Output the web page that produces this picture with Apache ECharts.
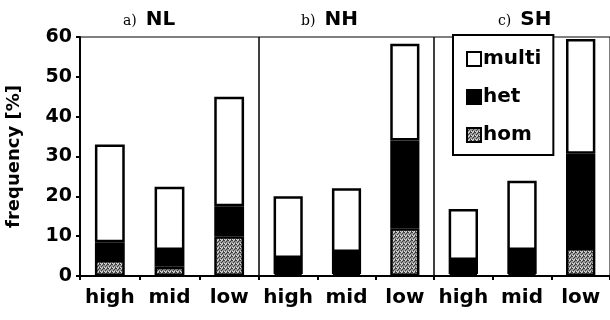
<!DOCTYPE html>
<html>
<head>
<meta charset="utf-8">
<script src="https://cdn.jsdelivr.net/npm/echarts@6/dist/echarts.min.js"></script>
<style>
  html, body { margin: 0; padding: 0; background: #fff; }
  #chart { width: 610px; height: 320px; }
</style>
</head>
<body>
<div id="chart"></div>
<script>
// Frequency of infection types per prevalence class, three regions
const categories = ['high', 'mid', 'low'];
const panels = ['NL', 'NH', 'SH'];
const panelTags = ['a)', 'b)', 'c)'];
const yTicks = [0, 10, 20, 30, 40, 50, 60];

// Stacked components (percent), one array per region: [high, mid, low]
const homNL = [4.0, 2.3, 10.0];
const hetNL = [4.5, 4.2, 7.5];
const multiNL = [24.5, 15.9, 27.5];

const homNH = [0.5, 0.5, 12.0];
const hetNH = [4.0, 5.5, 22.0];
const multiNH = [15.5, 16.0, 24.3];

const homSH = [0.5, 0.5, 7.0];
const hetSH = [3.5, 6.0, 23.7];
const multiSH = [12.8, 17.4, 28.8];

const homData = [homNL, homNH, homSH];
const hetData = [hetNL, hetNH, hetSH];
const multiData = [multiNL, multiNH, multiSH];

const SANS = '"DejaVu Sans", Verdana, sans-serif';
const SERIF = '"DejaVu Serif", "Times New Roman", serif';

// Fine stipple used for the 'hom' fill
function stipple() {
  const c = document.createElement('canvas');
  c.width = 4; c.height = 4;
  const g = c.getContext('2d');
  g.fillStyle = '#9a9a9a';
  g.fillRect(0, 0, 4, 4);
  g.fillStyle = '#3c3c3c';
  [[0,0],[2,1],[1,2],[3,3],[3,0]].forEach(p => g.fillRect(p[0], p[1], 1, 1));
  g.fillStyle = '#dcdcdc';
  [[1,0],[0,3],[2,3]].forEach(p => g.fillRect(p[0], p[1], 1, 1));
  return c;
}
const homFill = { image: stipple(), repeat: 'repeat' };

const gridBox = [
  { left: 80, width: 179 },
  { left: 259, width: 175 },
  { left: 434, width: 177 }
];

const grids = gridBox.map(b => ({
  left: b.left, width: b.width, top: 37, bottom: 44,
  show: true, borderColor: '#000', borderWidth: 1, backgroundColor: 'transparent'
}));

const xAxes = panels.map((p, i) => ({
  type: 'category', gridIndex: i, data: categories,
  axisLine: { lineStyle: { color: '#000', width: 2 } },
  axisTick: { show: true, length: 4, inside: false, lineStyle: { color: '#000', width: 2 } },
  axisLabel: { color: '#000', fontFamily: SANS, fontWeight: 'bold', fontSize: 20, margin: 12,
               interval: 0, hideOverlap: false }
}));

const yAxes = panels.map((p, i) => ({
  type: 'value', gridIndex: i, min: 0, max: 60, interval: 10,
  splitLine: { show: false },
  axisLine: { show: i === 0, lineStyle: { color: '#000', width: 2 } },
  axisTick: { show: i === 0, length: 4, lineStyle: { color: '#000', width: 2 } },
  axisLabel: { show: i === 0, color: '#000', fontFamily: SANS, fontWeight: 'bold', fontSize: 19, margin: 8,
               formatter: v => (yTicks.indexOf(v) >= 0 ? String(v) : '') },
  name: i === 0 ? 'frequency [%]' : '',
  nameLocation: 'middle', nameGap: 57, nameRotate: 90,
  nameTextStyle: { color: '#000', fontFamily: SANS, fontWeight: 'bold', fontSize: 18 }
}));

const border = { borderColor: '#000', borderWidth: 2.5 };
const series = [];
panels.forEach((p, i) => {
  series.push({
    name: 'hom', type: 'bar', stack: 'p' + i, xAxisIndex: i, yAxisIndex: i,
    barWidth: '50%', data: homData[i],
    itemStyle: Object.assign({ color: homFill }, border)
  });
  series.push({
    name: 'het', type: 'bar', stack: 'p' + i, xAxisIndex: i, yAxisIndex: i,
    barWidth: '50%', data: hetData[i],
    itemStyle: Object.assign({ color: '#000' }, border)
  });
  series.push({
    name: 'multi', type: 'bar', stack: 'p' + i, xAxisIndex: i, yAxisIndex: i,
    barWidth: '50%', data: multiData[i],
    itemStyle: Object.assign({ color: '#fff' }, border)
  });
});

const titleLeft = [118, 296, 493];
const titles = panels.map((p, i) => ({
  left: titleLeft[i], top: 5,
  text: '{t|' + panelTags[i] + '}{n|' + p + '}',
  textStyle: {
    rich: {
      t: { fontFamily: SERIF, fontWeight: 'normal', fontSize: 14, color: '#000', padding: [3, 9, 0, 0] },
      n: { fontFamily: SANS, fontWeight: 'bold', fontSize: 20, color: '#000' }
    }
  }
}));

const chart = echarts.init(document.getElementById('chart'), null, { renderer: 'canvas' });
chart.setOption({
  animation: false,
  backgroundColor: '#fff',
  title: titles,
  grid: grids,
  xAxis: xAxes,
  yAxis: yAxes,
  legend: {
    data: ['multi', 'het', 'hom'],
    orient: 'vertical', left: 453, top: 35,
    padding: [14, 12, 10, 13], itemGap: 18,
    itemWidth: 14, itemHeight: 14, icon: 'rect',
    borderColor: '#000', borderWidth: 2, backgroundColor: '#fff',
    textStyle: { color: '#000', fontFamily: SANS, fontWeight: 'bold', fontSize: 20, padding: [0, 0, 0, -3] },
    selectedMode: false
  },
  series: series
});
</script>
</body>
</html>
